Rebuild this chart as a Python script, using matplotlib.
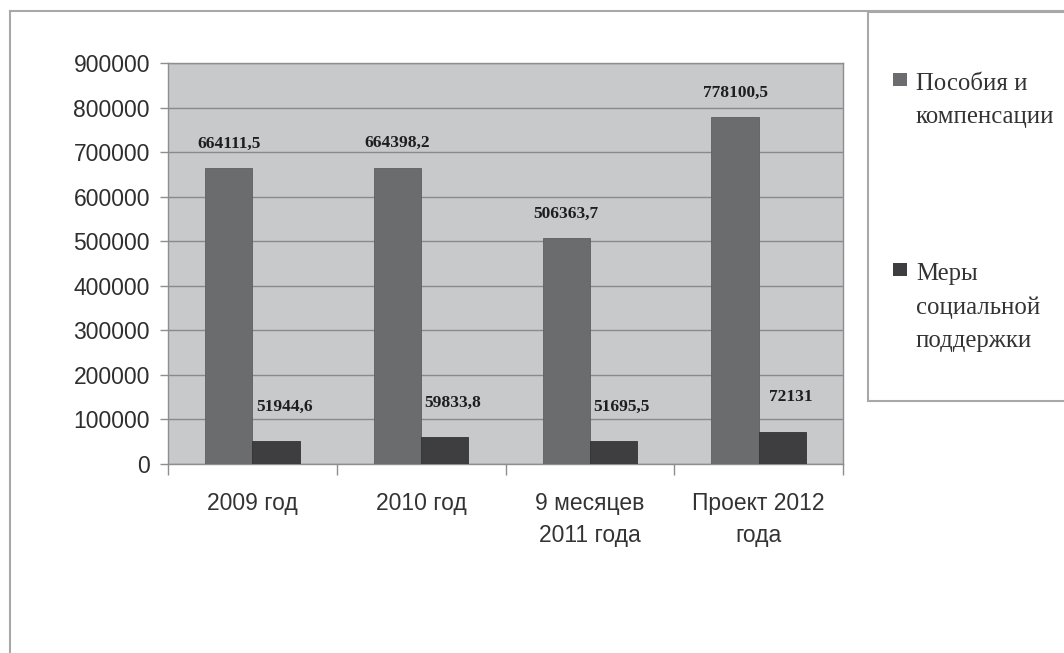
import numpy as np
import matplotlib
matplotlib.use("Agg")
import matplotlib.pyplot as plt
from matplotlib.patches import Rectangle
from matplotlib.lines import Line2D

categories = ['2009 год', '2010 год', '9 месяцев\n2011 года', 'Проект 2012\nгода']
series_names = ['Пособия и\nкомпенсации', 'Меры\nсоциальной\nподдержки']
benefits = [664111.5, 664398.2, 506363.7, 778100.5]
support = [51944.6, 59833.8, 51695.5, 72131]
colors = ['#6b6c6e', '#3e3e40']


def fmt(v):
    s = ('%.1f' % v).rstrip('0').rstrip('.')
    return s.replace('.', ',')


W, H = 1064, 653
fig = plt.figure(figsize=(W / 100, H / 100), dpi=100)
fig.patch.set_facecolor('white')

# plot area
ax = fig.add_axes([168 / W, 1 - 464 / H, (843 - 168) / W, (464 - 63) / H])
ax.set_facecolor('#c8c9cb')
for s in ax.spines.values():
    s.set_color('#8e8e8e')
    s.set_linewidth(1.0)

x = np.arange(len(categories))
bw = 0.28
b1 = ax.bar(x - bw / 2, benefits, bw, color=colors[0], edgecolor='#5e5f61', linewidth=0.6, zorder=3)
b2 = ax.bar(x + bw / 2, support, bw, color=colors[1], edgecolor='#333335', linewidth=0.6, zorder=3)

ax.set_xlim(-0.5, len(categories) - 0.5)
ax.set_ylim(0, 900000)
ax.set_yticks(np.arange(0, 900001, 100000))
ax.set_yticklabels([str(int(v)) for v in np.arange(0, 900001, 100000)])
ax.yaxis.grid(True, color='#8a8a8a', linewidth=1.0, zorder=1)
ax.set_axisbelow(True)

# category ticks at boundaries, labels at centers
ax.set_xticks(np.arange(-0.5, len(categories)), minor=False)
ax.set_xticklabels([])
ax.set_xticks(x, minor=True)
ax.set_xticklabels(categories, minor=True, fontsize=16.5, color='#333333',
                   family='Liberation Sans', linespacing=1.5)
ax.tick_params(axis='x', which='minor', length=0, pad=20)
ax.tick_params(axis='x', which='major', length=8, color='#8e8e8e', width=1)
ax.tick_params(axis='y', length=6, color='#8e8e8e', width=1, pad=7,
               labelsize=16.5, labelcolor='#2e2e2e')
for lab in ax.get_yticklabels():
    lab.set_family('Liberation Sans')

for rect, v in zip(b1, benefits):
    ax.annotate(fmt(v), (rect.get_x() + rect.get_width() / 2, v),
                xytext=(0, 12), textcoords='offset points', ha='center', va='bottom',
                fontsize=12.5, fontweight='bold', family='Liberation Serif', color='#1e1e1e')
for rect, v in zip(b2, support):
    ax.annotate(fmt(v), (rect.get_x() + rect.get_width() / 2, v),
                xytext=(6, 19), textcoords='offset points', ha='center', va='bottom',
                fontsize=12.5, fontweight='bold', family='Liberation Serif', color='#1e1e1e')

# outer frame lines
fig.add_artist(Line2D([10 / W, 10 / W], [0, 1 - 11 / H], transform=fig.transFigure,
                      color='#a8a8a8', linewidth=1.5))
fig.add_artist(Line2D([10 / W, 1], [1 - 11 / H, 1 - 11 / H], transform=fig.transFigure,
                      color='#a8a8a8', linewidth=1.5))

# legend box
fig.add_artist(Rectangle((868 / W, 1 - 401 / H), (W - 868 + 5) / W, (401 - 12) / H,
                         transform=fig.transFigure, facecolor='white',
                         edgecolor='#a8a8a8', linewidth=1.5))
cap_tops = [73, 263]
for name, c, yt in zip(series_names, colors, cap_tops):
    fig.add_artist(Rectangle((893 / W, 1 - (yt + 13) / H), 14 / W, 13 / H,
                             transform=fig.transFigure, facecolor=c, edgecolor='none'))
    fig.text(916 / W, 1 - (yt + 0) / H, name, ha='left', va='top', fontsize=17.8,
             family='Liberation Serif', color='#333333', linespacing=1.65)

fig.savefig('out.png', dpi=100)
